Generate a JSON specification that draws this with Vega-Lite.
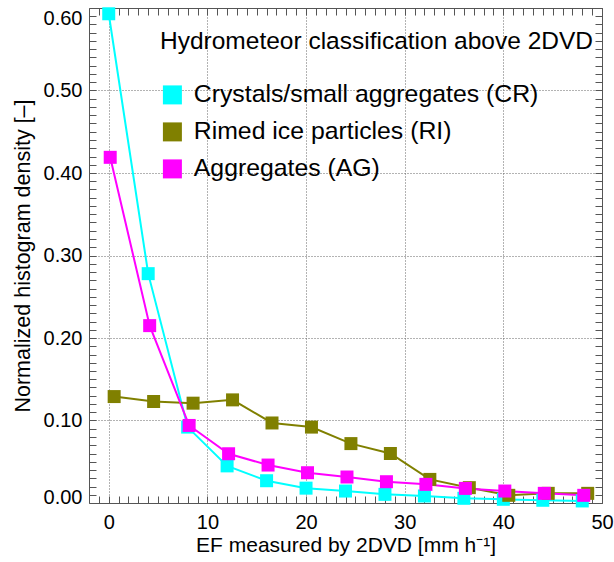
{
  "$schema": "https://vega.github.io/schema/vega-lite/v6.json",
  "width": 513,
  "height": 495,
  "autosize": "none",
  "padding": {"left": 89, "top": 8, "right": 12, "bottom": 59},
  "config": {
    "font": "Liberation Sans",
    "view": {"stroke": "#555555", "strokeWidth": 1}
  },
  "data": {
    "values": [
      {"s": "Crystals/small aggregates (CR)", "x": 0, "y": 0.593},
      {"s": "Crystals/small aggregates (CR)", "x": 4, "y": 0.278},
      {"s": "Crystals/small aggregates (CR)", "x": 8, "y": 0.092},
      {"s": "Crystals/small aggregates (CR)", "x": 12, "y": 0.045},
      {"s": "Crystals/small aggregates (CR)", "x": 16, "y": 0.027},
      {"s": "Crystals/small aggregates (CR)", "x": 20, "y": 0.018},
      {"s": "Crystals/small aggregates (CR)", "x": 24, "y": 0.0145},
      {"s": "Crystals/small aggregates (CR)", "x": 28, "y": 0.0105},
      {"s": "Crystals/small aggregates (CR)", "x": 32, "y": 0.0085},
      {"s": "Crystals/small aggregates (CR)", "x": 36, "y": 0.0057},
      {"s": "Crystals/small aggregates (CR)", "x": 40, "y": 0.0045},
      {"s": "Crystals/small aggregates (CR)", "x": 44, "y": 0.0033},
      {"s": "Crystals/small aggregates (CR)", "x": 48, "y": 0.0025},
      {"s": "Rimed ice particles (RI)", "x": 0.55, "y": 0.129},
      {"s": "Rimed ice particles (RI)", "x": 4.55, "y": 0.123},
      {"s": "Rimed ice particles (RI)", "x": 8.55, "y": 0.121},
      {"s": "Rimed ice particles (RI)", "x": 12.55, "y": 0.125},
      {"s": "Rimed ice particles (RI)", "x": 16.55, "y": 0.097},
      {"s": "Rimed ice particles (RI)", "x": 20.55, "y": 0.092},
      {"s": "Rimed ice particles (RI)", "x": 24.55, "y": 0.072},
      {"s": "Rimed ice particles (RI)", "x": 28.55, "y": 0.06},
      {"s": "Rimed ice particles (RI)", "x": 32.55, "y": 0.0286},
      {"s": "Rimed ice particles (RI)", "x": 36.55, "y": 0.0186},
      {"s": "Rimed ice particles (RI)", "x": 40.55, "y": 0.0093},
      {"s": "Rimed ice particles (RI)", "x": 44.55, "y": 0.0117},
      {"s": "Rimed ice particles (RI)", "x": 48.55, "y": 0.0117},
      {"s": "Aggregates (AG)", "x": 0.15, "y": 0.419},
      {"s": "Aggregates (AG)", "x": 4.15, "y": 0.215},
      {"s": "Aggregates (AG)", "x": 8.15, "y": 0.094},
      {"s": "Aggregates (AG)", "x": 12.15, "y": 0.0597},
      {"s": "Aggregates (AG)", "x": 16.15, "y": 0.046},
      {"s": "Aggregates (AG)", "x": 20.15, "y": 0.0367},
      {"s": "Aggregates (AG)", "x": 24.15, "y": 0.0315},
      {"s": "Aggregates (AG)", "x": 28.15, "y": 0.0258},
      {"s": "Aggregates (AG)", "x": 32.15, "y": 0.0226},
      {"s": "Aggregates (AG)", "x": 36.15, "y": 0.0177},
      {"s": "Aggregates (AG)", "x": 40.15, "y": 0.0145},
      {"s": "Aggregates (AG)", "x": 44.15, "y": 0.0117},
      {"s": "Aggregates (AG)", "x": 48.15, "y": 0.0093}
    ]
  },
  "layer": [
    {
      "mark": {"type": "line", "strokeWidth": 2},
      "encoding": {
        "x": {
          "field": "x", "type": "quantitative",
          "scale": {"domain": [-2, 50], "nice": false, "zero": false},
          "axis": {
            "orient": "bottom",
            "values": [-1,0,1,2,3,4,5,6,7,8,9,10,11,12,13,14,15,16,17,18,19,20,21,22,23,24,25,26,27,28,29,30,31,32,33,34,35,36,37,38,39,40,41,42,43,44,45,46,47,48,49,50],
            "labelExpr": "datum.value % 10 === 0 ? format(datum.value, 'd') : ''",
            "labelOverlap": false,
            "labelFlush": false,
            "labelBound": false,
            "labelFontSize": 20,
            "labelColor": "black",
            "labelPadding": 16,
            "tickSize": -7,
            "tickColor": "#555555",
            "domain": false,
            "grid": true,
            "gridColor": "#666666",
            "gridDash": [1, 2],
            "gridOpacity": {"condition": {"test": "datum.value % 10 === 0 && datum.value < 50", "value": 1}, "value": 0},
            "title": "EF measured by 2DVD [mm h⁻¹]",
            "titleFontSize": 21,
            "titleFontWeight": "normal",
            "titleColor": "black",
            "titlePadding": 2
          }
        },
        "y": {
          "field": "y", "type": "quantitative",
          "scale": {"domain": [0, 0.6], "nice": false, "zero": false},
          "axis": {
            "orient": "left",
            "values": [0,0.01,0.02,0.03,0.04,0.05,0.06,0.07,0.08,0.09,0.1,0.11,0.12,0.13,0.14,0.15,0.16,0.17,0.18,0.19,0.2,0.21,0.22,0.23,0.24,0.25,0.26,0.27,0.28,0.29,0.3,0.31,0.32,0.33,0.34,0.35,0.36,0.37,0.38,0.39,0.4,0.41,0.42,0.43,0.44,0.45,0.46,0.47,0.48,0.49,0.5,0.51,0.52,0.53,0.54,0.55,0.56,0.57,0.58,0.59,0.6],
            "labelExpr": "abs(datum.value*10 - round(datum.value*10)) < 0.0001 ? format(datum.value, '.2f') : ''",
            "labelOverlap": false,
            "labelFlush": false,
            "labelFontSize": 20,
            "labelColor": "black",
            "labelPadding": 14,
            "labelBaseline": {"condition": [{"test": "datum.value < 0.001", "value": "alphabetic"}, {"test": "datum.value > 0.599", "value": "top"}], "value": "middle"},
            "tickSize": -7,
            "tickColor": "#555555",
            "domain": false,
            "grid": true,
            "gridColor": "#666666",
            "gridDash": [1, 2],
            "gridOpacity": {"condition": {"test": "abs(datum.value*10 - round(datum.value*10)) < 0.0001 && datum.value > 0.001 && datum.value < 0.599", "value": 1}, "value": 0},
            "title": "Normalized histogram density [–]",
            "titleFontSize": 21.5,
            "titleFontWeight": "normal",
            "titleColor": "black",
            "titlePadding": 9
          }
        },
        "color": {
          "field": "s", "type": "nominal",
          "scale": {
            "domain": ["Crystals/small aggregates (CR)", "Rimed ice particles (RI)", "Aggregates (AG)"],
            "range": ["#00ffff", "#808000", "#ff00ff"]
          },
          "legend": {
            "orient": "none",
            "legendX": 71,
            "legendY": 22,
            "title": "Hydrometeor classification above 2DVD",
            "titleFontSize": 24.5,
            "titleFontWeight": "normal",
            "titleColor": "black",
            "titlePadding": 28,
            "titleLimit": 0,
            "labelFontSize": 24.8,
            "labelColor": "black",
            "labelLimit": 0,
            "labelOffset": 9,
            "symbolType": "square",
            "symbolSize": 361,
            "symbolStrokeWidth": 0,
            "rowPadding": 11
          }
        }
      }
    },
    {
      "mark": {"type": "point", "shape": "square", "filled": true, "size": 169, "opacity": 1},
      "encoding": {
        "x": {
          "field": "x", "type": "quantitative",
          "axis": {
            "orient": "top",
            "values": [-1,0,1,2,3,4,5,6,7,8,9,10,11,12,13,14,15,16,17,18,19,20,21,22,23,24,25,26,27,28,29,30,31,32,33,34,35,36,37,38,39,40,41,42,43,44,45,46,47,48,49,50],
            "labels": false,
            "title": null,
            "tickSize": -7,
            "tickColor": "#555555",
            "domain": false,
            "grid": false
          }
        },
        "y": {
          "field": "y", "type": "quantitative",
          "axis": {
            "orient": "right",
            "values": [0,0.01,0.02,0.03,0.04,0.05,0.06,0.07,0.08,0.09,0.1,0.11,0.12,0.13,0.14,0.15,0.16,0.17,0.18,0.19,0.2,0.21,0.22,0.23,0.24,0.25,0.26,0.27,0.28,0.29,0.3,0.31,0.32,0.33,0.34,0.35,0.36,0.37,0.38,0.39,0.4,0.41,0.42,0.43,0.44,0.45,0.46,0.47,0.48,0.49,0.5,0.51,0.52,0.53,0.54,0.55,0.56,0.57,0.58,0.59,0.6],
            "labels": false,
            "title": null,
            "tickSize": -7,
            "tickColor": "#555555",
            "domain": false,
            "grid": false
          }
        },
        "color": {"field": "s", "type": "nominal"}
      }
    }
  ],
  "resolve": {"axis": {"x": "independent", "y": "independent"}}
}
